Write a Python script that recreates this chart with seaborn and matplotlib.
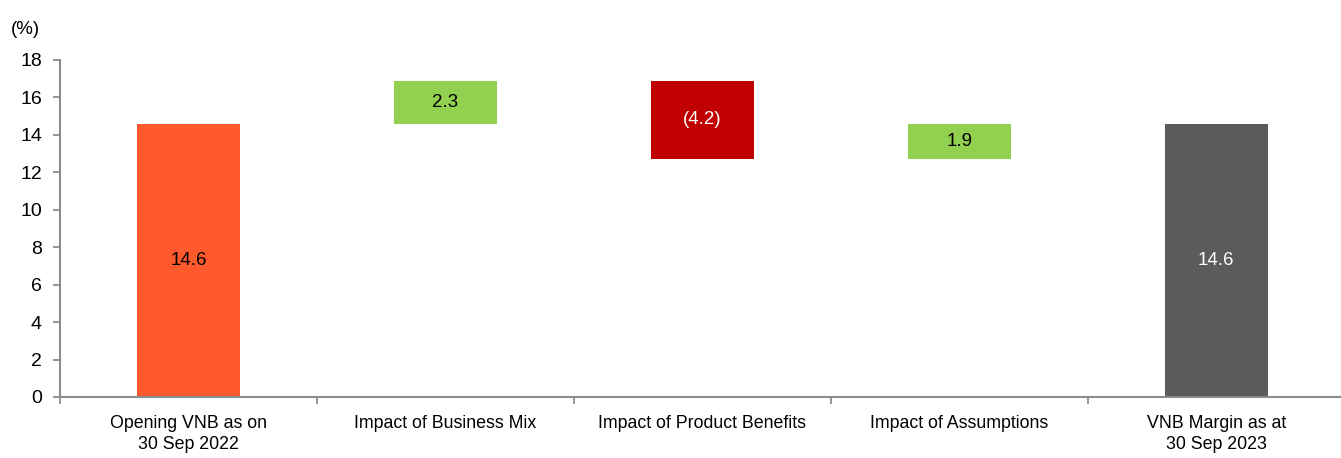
import matplotlib.pyplot as plt
import numpy as np
import seaborn as sns
import pandas as pd
from matplotlib.ticker import FixedLocator

sns.set_theme(style="white")
plt.rcParams['font.family'] = ['Liberation Sans', 'DejaVu Sans']
plt.rcParams['text.color'] = 'black'
plt.rcParams['xtick.color'] = 'black'
plt.rcParams['ytick.color'] = 'black'

# Waterfall data (%)
categories = ['Opening VNB as on\n30 Sep 2022', 'Impact of Business Mix',
              'Impact of Product Benefits', 'Impact of Assumptions',
              'VNB Margin as at\n30 Sep 2023']
changes = [14.6, 2.3, -4.2, 1.9, 14.6]
is_total = [True, False, False, False, True]
labels = ['14.6', '2.3', '(4.2)', '1.9', '14.6']
bar_colors = ['#FF5A2E', '#92D050', '#C00000', '#92D050', '#5B5B5D']
label_colors = ['black', 'black', 'white', 'black', 'white']

# running bottoms for the floating bars
bottoms = []
running = 0.0
for v, tot in zip(changes, is_total):
    if tot:
        bottoms.append(0.0)
        running = v
    else:
        bottoms.append(running if v >= 0 else running + v)
        running += v
heights = [abs(v) for v in changes]

df = pd.DataFrame({'Category': categories, 'Height': heights, 'Bottom': bottoms})

fig = plt.figure(figsize=(13.41, 4.58), dpi=100)
ax = fig.add_axes([0.0447, 0.1332, 0.958, 0.7358])

sns.barplot(data=df, x='Category', y='Height', hue='Category', order=categories,
            hue_order=categories, palette=dict(zip(categories, bar_colors)),
            width=0.4, saturation=1, legend=False, ax=ax, linewidth=0)

# lift each bar to its waterfall base
for patch, b in zip(ax.patches, bottoms):
    patch.set_y(b)

for i, (b, h, lab, c) in enumerate(zip(bottoms, heights, labels, label_colors)):
    ax.text(i, b + h / 2, lab, ha='center', va='center', fontsize=13.5, color=c)

ax.set_xlim(-0.5, len(categories) - 0.5)
ax.set_ylim(0, 18)
ax.set_yticks(np.arange(0, 19, 2))
ax.set_xlabel('')
ax.set_ylabel('')

# separators between categories, no ticks under labels
ax.xaxis.set_minor_locator(FixedLocator(np.arange(-0.5, len(categories), 1)))
ax.tick_params(axis='x', which='major', length=0, pad=13, labelsize=12.8)
ax.tick_params(axis='x', which='minor', length=5, width=1.3, color='#8C8C8C', direction='out', bottom=True)
ax.tick_params(axis='y', length=5, width=1.3, color='#8C8C8C', direction='out', left=True,
               labelsize=14, pad=8)
for t in ax.get_xticklabels():
    t.set_linespacing(1.3)

sns.despine(ax=ax, top=True, right=True)
for side in ['left', 'bottom']:
    ax.spines[side].set_color('#8C8C8C')
    ax.spines[side].set_linewidth(1.5)

fig.text(0.008, 0.935, '(%)', fontsize=13.5, ha='left', va='center')

plt.savefig('out.png', dpi=100)
